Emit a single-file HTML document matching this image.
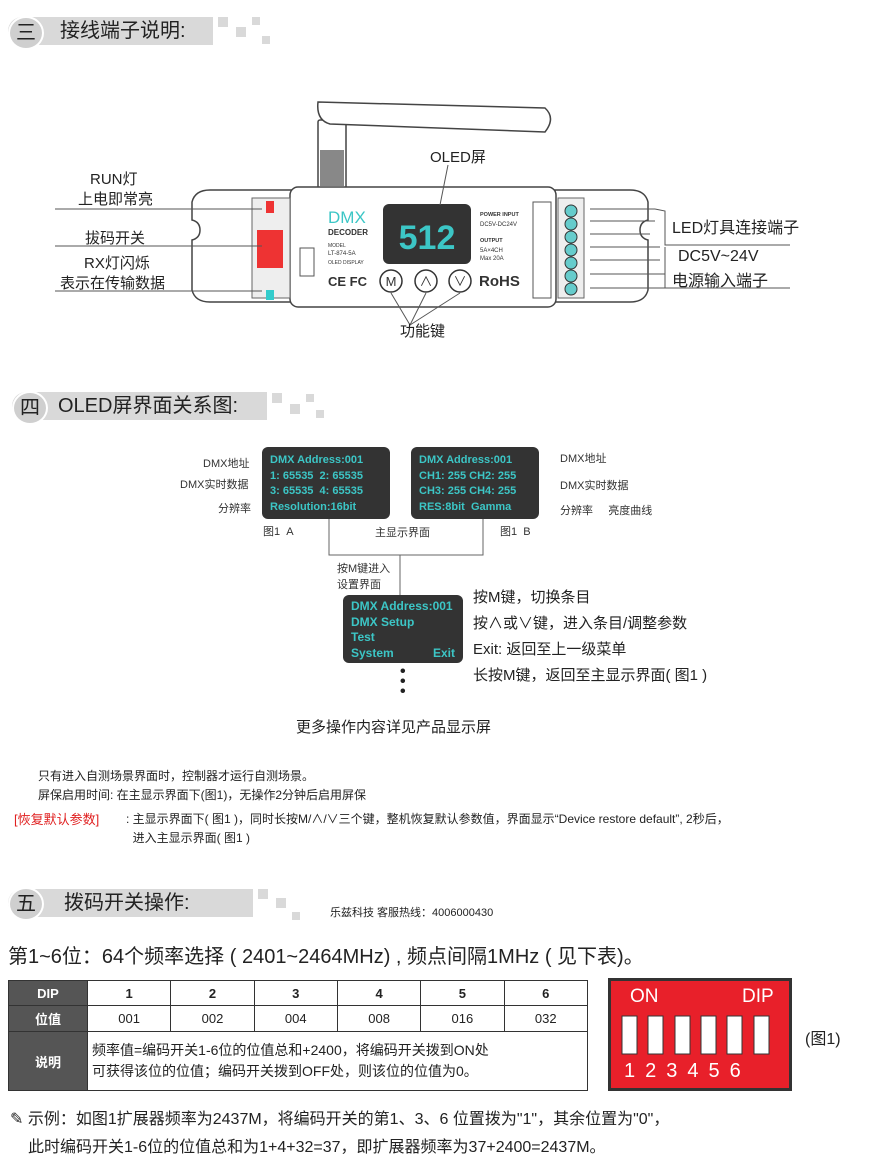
<!DOCTYPE html>
<html><head><meta charset="utf-8"><style>
body{margin:0;width:872px;height:1175px;background:#fff;position:relative;overflow:hidden;font-family:"Liberation Sans","Noto Sans CJK SC",sans-serif;color:#222}
.a{position:absolute;white-space:nowrap}
.hd{position:absolute;left:8px;height:28px;width:205px;background:#d9d9d9;border-radius:14px 0 0 14px}
.hc{position:absolute;left:0;top:-1px;width:32px;height:30px;border-radius:50%;background:#cfcfcf;border:2px solid #fff;font-size:20px;text-align:center;line-height:30px}
.ht{position:absolute;left:52px;top:0;font-size:20px;line-height:28px}
.sq{position:absolute;background:#d9d9d9}
.scr{position:absolute;background:#333;border-radius:6px;color:#3cc6c6;font-weight:bold;font-size:11px;line-height:15.5px;padding:6px 8px;box-sizing:border-box}
.s{font-size:11px;color:#333}
table{border-collapse:collapse;position:absolute;left:8px;top:980px;width:580px}
td{border:1px solid #333;text-align:center;font-size:13px;height:24px;padding:0}
td.k{background:#555;color:#fff;font-weight:bold;width:78px}
</style></head><body>

<!-- heading 3 -->
<div class="hd" style="top:17px"><div class="hc">三</div><div class="ht">接线端子说明:</div></div>
<div class="sq" style="left:218px;top:17px;width:10px;height:10px"></div><div class="sq" style="left:236px;top:27px;width:10px;height:10px"></div><div class="sq" style="left:252px;top:17px;width:8px;height:8px"></div><div class="sq" style="left:262px;top:36px;width:8px;height:8px"></div>

<!-- device -->
<svg class="a" style="left:0;top:90px" width="872" height="260">
<g fill="#fff" stroke="#444" stroke-width="1.5">
<path d="M210 100 H295 V212 H210 Q195 212 192 200 L192 150 Q200 148 200 140 Q200 132 192 130 L192 112 Q195 100 210 100Z"/>
<path d="M555 100 H630 Q645 100 648 112 L648 130 Q640 132 640 140 Q640 148 648 150 L648 200 Q645 212 630 212 H555Z"/>
<rect x="318" y="30" width="28" height="72" rx="2"/>
<path d="M318 12 L545 18 Q556 28 545 42 L330 34 Q316 30 318 12Z"/>
<rect x="290" y="97" width="266" height="120" rx="8"/>
</g>
<rect x="320" y="60" width="24" height="36" fill="#888"/>
<rect x="252" y="108" width="38" height="100" fill="#eee" stroke="#666"/>
<rect x="257" y="140" width="26" height="38" fill="#e33"/>
<rect x="266" y="111" width="8" height="12" fill="#e33"/>
<rect x="266" y="200" width="8" height="10" fill="#3cc"/>
<rect x="558" y="108" width="26" height="100" fill="#eee" stroke="#666"/>
<g fill="#6cc" stroke="#333"><circle cx="571" cy="121" r="6"/><circle cx="571" cy="134" r="6"/><circle cx="571" cy="147" r="6"/><circle cx="571" cy="160" r="6"/><circle cx="571" cy="173" r="6"/><circle cx="571" cy="186" r="6"/><circle cx="571" cy="199" r="6"/></g>
<rect x="533" y="112" width="18" height="96" fill="#fff" stroke="#555"/>
<rect x="300" y="158" width="14" height="28" fill="#fff" stroke="#555"/>
<rect x="383" y="114" width="88" height="60" rx="6" fill="#333"/>
<text x="427" y="159" font-size="34" font-weight="bold" fill="#3cc6c6" text-anchor="middle" font-family="Liberation Sans">512</text>
<text x="328" y="133" font-size="17" fill="#3cc6c6" font-family="Liberation Sans">DMX</text>
<text x="328" y="145" font-size="8" font-weight="bold" fill="#333">DECODER</text>
<text x="328" y="157" font-size="5" fill="#333">MODEL</text><text x="328" y="165" font-size="6" fill="#333">LT-874-5A</text><text x="328" y="174" font-size="5" fill="#333">OLED DISPLAY</text>
<text x="480" y="126" font-size="5.5" font-weight="bold" fill="#333">POWER INPUT</text><text x="480" y="136" font-size="6" fill="#333">DC5V-DC24V</text>
<text x="480" y="152" font-size="5.5" font-weight="bold" fill="#333">OUTPUT</text><text x="480" y="162" font-size="6" fill="#333">5A×4CH</text><text x="480" y="170" font-size="6" fill="#333">Max 20A</text>
<text x="328" y="196" font-size="13" font-weight="bold" fill="#333">CE FC</text>
<text x="479" y="196" font-size="15" font-weight="bold" fill="#333">RoHS</text>
<g fill="#fff" stroke="#333" stroke-width="1.5"><circle cx="391" cy="191" r="11"/><circle cx="426" cy="191" r="11"/><circle cx="460" cy="191" r="11"/></g>
<text x="391" y="196" font-size="13" text-anchor="middle" fill="#333">M</text><text x="426" y="196" font-size="13" text-anchor="middle" fill="#333">∧</text><text x="460" y="196" font-size="13" text-anchor="middle" fill="#333">∨</text>
<g stroke="#555" stroke-width="1" fill="none">
<line x1="55" y1="119" x2="262" y2="119"/><line x1="55" y1="156" x2="262" y2="156"/><line x1="55" y1="201" x2="262" y2="201"/>
<line x1="448" y1="75" x2="440" y2="115"/>
<polyline points="391,203 410,235 426,203"/><polyline points="410,235 460,203"/>
<line x1="590" y1="119" x2="655" y2="119"/><line x1="590" y1="131" x2="655" y2="131"/><line x1="590" y1="144" x2="650" y2="144"/><line x1="590" y1="157" x2="660" y2="157"/><line x1="590" y1="170" x2="660" y2="170"/><line x1="590" y1="184" x2="665" y2="184"/><line x1="590" y1="198" x2="790" y2="198"/>
<polyline points="655,119 665,121 665,155 790,155"/><line x1="665" y1="157" x2="665" y2="198"/>
</g>
</svg>
<div class="a" style="left:90px;top:168px;font-size:15px">RUN灯</div>
<div class="a" style="left:78px;top:188px;font-size:15px">上电即常亮</div>
<div class="a" style="left:85px;top:227px;font-size:15px">拔码开关</div>
<div class="a" style="left:84px;top:252px;font-size:15px">RX灯闪烁</div>
<div class="a" style="left:60px;top:272px;font-size:15px">表示在传输数据</div>
<div class="a" style="left:430px;top:146px;font-size:15px">OLED屏</div>
<div class="a" style="left:672px;top:214px;font-size:16px">LED灯具连接端子</div>
<div class="a" style="left:678px;top:248px;font-size:16px">DC5V~24V</div>
<div class="a" style="left:672px;top:267px;font-size:16px">电源输入端子</div>
<div class="a" style="left:400px;top:320px;font-size:15px">功能键</div>

<!-- heading 4 -->
<div class="hd" style="top:392px;width:255px;left:12px"><div class="hc">四</div><div class="ht" style="left:46px">OLED屏界面关系图:</div></div>
<div class="sq" style="left:272px;top:393px;width:10px;height:10px"></div><div class="sq" style="left:290px;top:404px;width:10px;height:10px"></div><div class="sq" style="left:306px;top:394px;width:8px;height:8px"></div><div class="sq" style="left:316px;top:410px;width:8px;height:8px"></div>

<div class="a s" style="left:203px;top:455px">DMX地址</div>
<div class="a s" style="left:180px;top:476px">DMX实时数据</div>
<div class="a s" style="left:218px;top:500px">分辨率</div>
<div class="scr" style="left:262px;top:447px;width:128px;height:72px">DMX Address:001<br>1: 65535 &nbsp;2: 65535<br>3: 65535 &nbsp;4: 65535<br>Resolution:16bit</div>
<div class="scr" style="left:411px;top:447px;width:128px;height:72px">DMX Address:001<br>CH1: 255 CH2: 255<br>CH3: 255 CH4: 255<br>RES:8bit &nbsp;Gamma</div>
<div class="a s" style="left:560px;top:450px">DMX地址</div>
<div class="a s" style="left:560px;top:477px">DMX实时数据</div>
<div class="a s" style="left:560px;top:502px">分辨率 &nbsp;&nbsp;&nbsp;&nbsp;亮度曲线</div>
<div class="a s" style="left:263px;top:523px">图1 &nbsp;A</div>
<div class="a s" style="left:375px;top:524px">主显示界面</div>
<div class="a s" style="left:500px;top:523px">图1 &nbsp;B</div>
<svg class="a" style="left:0;top:0" width="872" height="700"><g stroke="#666" fill="none"><polyline points="329,519 329,555 483,555 483,519"/><line x1="400" y1="555" x2="400" y2="595"/></g></svg>
<div class="a s" style="left:337px;top:560px">按M键进入</div>
<div class="a s" style="left:337px;top:576px">设置界面</div>
<div class="scr" style="left:343px;top:595px;width:120px;height:68px;line-height:15.5px;font-size:12px;padding:4px 8px">DMX Address:001<br>DMX Setup<br>Test<br>System<span style="float:right">Exit</span></div>
<div class="a" style="left:473px;top:585px;font-size:15px;line-height:26px">按M键，切换条目<br>按∧或∨键，进入条目/调整参数<br>Exit: 返回至上一级菜单<br>长按M键，返回至主显示界面( 图1 )</div>
<div class="a" style="left:400px;top:667px;font-size:16px;line-height:10px;font-weight:bold">•<br>•<br>•</div>
<div class="a" style="left:296px;top:716px;font-size:15px">更多操作内容详见产品显示屏</div>

<div class="a" style="left:38px;top:767px;font-size:12px;line-height:19px">只有进入自测场景界面时，控制器才运行自测场景。<br>屏保启用时间: 在主显示界面下(图1)，无操作2分钟后启用屏保</div>
<div class="a" style="left:14px;top:809px;font-size:13px;color:#e02020">[恢复默认参数]</div>
<div class="a" style="left:126px;top:810px;font-size:12px;line-height:19px">: 主显示界面下( 图1 )，同时长按M/∧/∨三个键，整机恢复默认参数值，界面显示“Device restore default”, 2秒后，<br>&nbsp;&nbsp;进入主显示界面( 图1 )</div>

<!-- heading 5 -->
<div class="hd" style="top:889px;width:245px"><div class="hc" style="top:-2px">五</div><div class="ht" style="left:56px">拨码开关操作:</div></div>
<div class="sq" style="left:258px;top:889px;width:10px;height:10px"></div><div class="sq" style="left:276px;top:898px;width:10px;height:10px"></div><div class="sq" style="left:292px;top:912px;width:8px;height:8px"></div>
<div class="a" style="left:330px;top:904px;font-size:11px">乐兹科技 客服热线：4006000430</div>
<div class="a" style="left:8px;top:940px;font-size:20px">第1~6位：64个频率选择 ( 2401~2464MHz) , 频点间隔1MHz ( 见下表)。</div>

<table>
<tr><td class="k">DIP</td><td><b>1</b></td><td><b>2</b></td><td><b>3</b></td><td><b>4</b></td><td><b>5</b></td><td><b>6</b></td></tr>
<tr><td class="k" style="height:25px">位值</td><td>001</td><td>002</td><td>004</td><td>008</td><td>016</td><td>032</td></tr>
<tr><td class="k" style="height:58px">说明</td><td colspan="6" style="text-align:left;font-size:14px;line-height:21px;padding:0 4px">频率值=编码开关1-6位的位值总和+2400，将编码开关拨到ON处<br>可获得该位的位值；编码开关拨到OFF处，则该位的位值为0。</td></tr>
</table>

<div class="a" style="left:608px;top:978px;width:184px;height:113px;background:#e8202a;border:3px solid #333;box-sizing:border-box"></div>
<div class="a" style="left:630px;top:986px;font-size:19px;color:#fff">ON</div>
<div class="a" style="left:742px;top:986px;font-size:19px;color:#fff">DIP</div>
<svg class="a" style="left:618px;top:1014px" width="170" height="42"><g fill="#fff" stroke="#333"><rect x="4" y="2" width="15" height="38"/><rect x="30" y="2" width="15" height="38"/><rect x="57" y="2" width="15" height="38"/><rect x="83" y="2" width="15" height="38"/><rect x="109" y="2" width="15" height="38"/><rect x="136" y="2" width="15" height="38"/></g></svg>
<div class="a" style="left:624px;top:1060px;font-size:20px;color:#fff;letter-spacing:10px">123456</div>
<div class="a" style="left:805px;top:1025px;font-size:16px">(图1)</div>

<div class="a" style="left:10px;top:1105px;font-size:16px">✎ 示例：如图1扩展器频率为2437M，将编码开关的第1、3、6 位置拨为"1"，其余位置为"0"，</div>
<div class="a" style="left:28px;top:1133px;font-size:16px">此时编码开关1-6位的位值总和为1+4+32=37，即扩展器频率为37+2400=2437M。</div>
</body></html>
